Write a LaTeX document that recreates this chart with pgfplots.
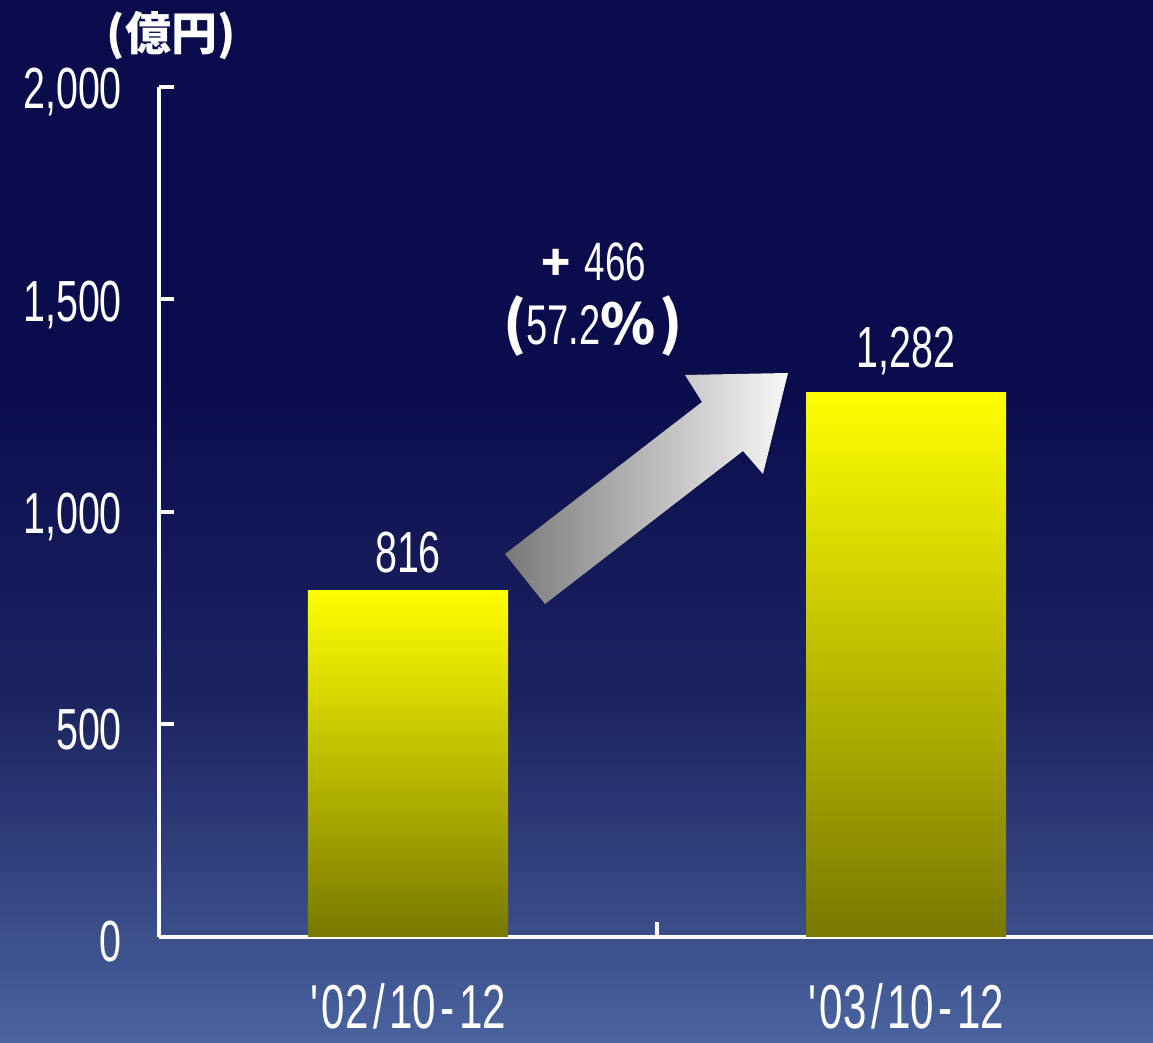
\documentclass[border=0pt]{standalone}
\usepackage{pgfplots}
\pgfplotsset{compat=1.18}
\usepackage{fontspec}
\setmainfont{Liberation Sans}
\newfontfamily\narrow[FakeStretch=0.68]{Liberation Sans}
\newfontfamily\jp{Noto Sans CJK JP}
\definecolor{bgA}{HTML}{0A0C4C}
\definecolor{bgB}{HTML}{1C2460}
\definecolor{bgC}{HTML}{34447E}
\definecolor{bgD}{HTML}{4A64A0}
\definecolor{barbot}{HTML}{787800}
\begin{document}
\begin{tikzpicture}
\useasboundingbox (0,0) rectangle (576.5pt,521.5pt);
\clip (0,0) rectangle (576.5pt,521.5pt);
\begin{scope}[x=0.5pt,y=-0.5pt,shift={(0,521.5pt)}]
\fill[bgA] (0,0) rectangle (1153,381);
\shade[top color=bgA,bottom color=bgB] (0,380) rectangle (1153,701);
\shade[top color=bgB,bottom color=bgC] (0,700) rectangle (1153,881);
\shade[top color=bgC,bottom color=bgD] (0,880) rectangle (1153,1043);
\end{scope}
\begin{axis}[
  at={(79.5pt,53pt)}, anchor=south west,
  scale only axis, width=498pt, height=425pt,
  xmin=0, xmax=2, ymin=0, ymax=2000,
  axis lines=left,
  axis line style={white, line width=2pt, -},
  clip=false,
  xtick={0.5,1.5},
  xticklabels={{\textquotesingle02\kern2.2pt/\kern2.2pt10\kern2.2pt-\kern2.2pt12},{\textquotesingle03\kern2.2pt/\kern2.2pt10\kern2.2pt-\kern2.2pt12}},
  minor xtick={1,2},
  major x tick style={draw=none},
  ytick={0,500,1000,1500,2000},
  yticklabels={0,500,{1,000},{1,500},{2,000}},
  tick align=inside,
  major tick length=7.5pt, minor tick length=7.5pt,
  tick style={white, line width=2pt},
  yticklabel style={font=\narrow\fontsize{29}{29}\selectfont, text=white, xshift=-15pt, yshift=-2.5pt},
  xticklabel style={font=\narrow\fontsize{31}{31}\selectfont, text=white, yshift=-20pt},
  /pgf/number format/1000 sep={,},
  /pgf/number format/assume math mode=true,
  nodes near coords={\pgfmathprintnumber{\pgfplotspointmeta}},
  every node near coord/.append style={font=\narrow\fontsize{29}{29}\selectfont, text=white, yshift=5pt},
]
\addplot[ybar, bar width=100pt, bar shift=0pt, draw=none, top color=yellow, bottom color=barbot]
  coordinates {(0.5,816)};
\addplot[ybar, bar width=100pt, bar shift=0pt, draw=none, top color=yellow, bottom color=barbot]
  coordinates {(1.5,1282)};
\end{axis}
\begin{scope}[x=0.5pt,y=-0.5pt,shift={(0,521.5pt)}]
\shade[left color=gray!95!black, right color=white!97!black]
  (505,554) -- (545,604) -- (743,451) -- (763,474) -- (788,373) -- (685,375) -- (702,402) -- cycle;
\node[text=white, font=\jp\bfseries\fontsize{23}{23}\selectfont, inner sep=0pt] at (171,36) {(億円)};
\node[text=white, inner sep=0pt] at (594,262) {{\jp\bfseries\fontsize{24}{24}\selectfont +}\kern7pt{\narrow\fontsize{27}{27}\selectfont 466}};
\node[text=white, inner sep=0pt] at (593,326) {{\jp\bfseries\fontsize{29}{29}\selectfont (}{\narrow\fontsize{28}{28}\selectfont 57.2}{\jp\bfseries\fontsize{28}{28}\selectfont \%}\kern2pt{\jp\bfseries\fontsize{29}{29}\selectfont )}};
\end{scope}
\end{tikzpicture}
\end{document}
